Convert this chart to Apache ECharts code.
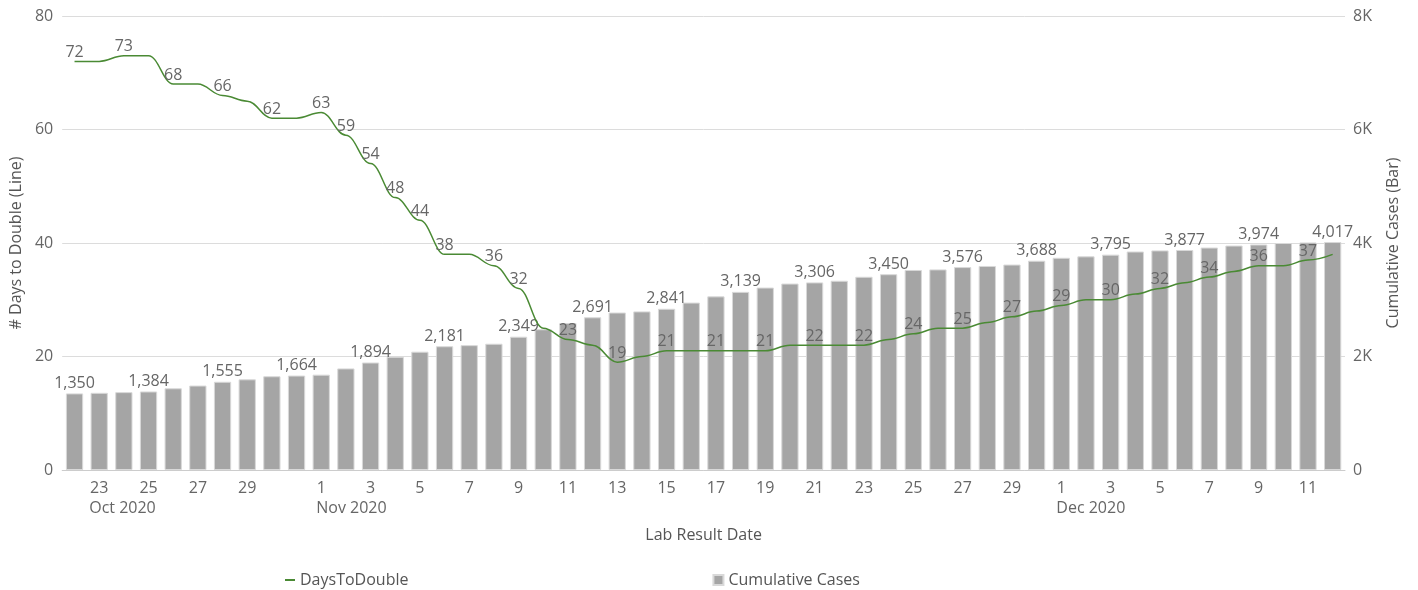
<!DOCTYPE html>
<html>
<head>
<meta charset="utf-8">
<script src="https://cdn.jsdelivr.net/npm/echarts@6/dist/echarts.min.js"></script>
<style>
  html, body { margin: 0; padding: 0; background: #fff; }
  #chart { width: 1418px; height: 590px; }
</style>
</head>
<body>
<div id="chart"></div>
<script>
const dates = [
  '2020-10-22','2020-10-23','2020-10-24','2020-10-25','2020-10-26','2020-10-27','2020-10-28','2020-10-29','2020-10-30','2020-10-31',
  '2020-11-01','2020-11-02','2020-11-03','2020-11-04','2020-11-05','2020-11-06','2020-11-07','2020-11-08','2020-11-09','2020-11-10',
  '2020-11-11','2020-11-12','2020-11-13','2020-11-14','2020-11-15','2020-11-16','2020-11-17','2020-11-18','2020-11-19','2020-11-20',
  '2020-11-21','2020-11-22','2020-11-23','2020-11-24','2020-11-25','2020-11-26','2020-11-27','2020-11-28','2020-11-29','2020-11-30',
  '2020-12-01','2020-12-02','2020-12-03','2020-12-04','2020-12-05','2020-12-06','2020-12-07','2020-12-08','2020-12-09','2020-12-10',
  '2020-12-11','2020-12-12'
];
const monthNames = ['Jan','Feb','Mar','Apr','May','Jun','Jul','Aug','Sep','Oct','Nov','Dec'];

const daysToDouble = [
  72, 72, 73, 73, 68, 68, 66, 65, 62, 62,
  63, 59, 54, 48, 44, 38, 38, 36, 32, 25,
  23, 22, 19, 20, 21, 21, 21, 21, 21, 22,
  22, 22, 22, 23, 24, 25, 25, 26, 27, 28,
  29, 30, 30, 31, 32, 33, 34, 35, 36, 36,
  37, 38
];
const cumulativeCases = [
  1350, 1360, 1372, 1384, 1440, 1488, 1555, 1598, 1652, 1664,
  1680, 1790, 1894, 1995, 2085, 2181, 2200, 2225, 2349, 2480,
  2590, 2691, 2775, 2795, 2841, 2950, 3060, 3139, 3215, 3285,
  3306, 3335, 3405, 3450, 3525, 3535, 3576, 3595, 3620, 3688,
  3740, 3765, 3795, 3850, 3870, 3877, 3920, 3955, 3974, 4000,
  4010, 4017
];

const textColor = '#666';
const font = 'Open Sans';
const fs = 16;

const dayOf = (d) => parseInt(d.slice(8), 10);
// tick every other day, skipping the 31st so the 1st of next month gets the slot
const showDay = (i) => dayOf(dates[i]) % 2 === 1 && dayOf(dates[i]) !== 31;
const showMonth = (i) => {
  if (!showDay(i)) return false;
  for (let j = i - 1; j >= 0 && dates[j].slice(0, 7) === dates[i].slice(0, 7); j--) {
    if (showDay(j)) return false;
  }
  return true;
};

// labels the original tool kept after its overlap pass
const lineLabelShown = (i) => (i % 2 === 0 && i !== 16) || [11, 13, 15, 17].includes(i);

const lineData = daysToDouble.map((v, i) => ({
  value: v,
  label: { show: lineLabelShown(i) }
}));
const barData = cumulativeCases.map((v, i) => ({
  value: v,
  label: { show: i % 3 === 0 }
}));

const chart = echarts.init(document.getElementById('chart'));
chart.setOption({
  animation: false,
  textStyle: { fontFamily: font },
  grid: { left: 62, right: 73, top: 16, bottom: 120 },
  legend: {
    left: 280,
    top: 567,
    itemGap: 304,
    itemWidth: 10,
    itemHeight: 10,
    textStyle: { color: '#555', fontSize: fs, fontFamily: font },
    data: [
      { name: 'DaysToDouble', icon: 'path://M0,4h10v2h-10z' },
      { name: 'Cumulative Cases', icon: 'rect' }
    ]
  },
  xAxis: [
    {
      type: 'category',
      data: dates,
      name: 'Lab Result Date',
      nameLocation: 'middle',
      nameGap: 57,
      nameTextStyle: { color: '#555', fontSize: fs },
      axisLine: { lineStyle: { color: '#ccc' } },
      axisTick: { alignWithLabel: true, interval: (i) => showDay(i), length: 5, lineStyle: { color: '#ccc' } },
      axisLabel: {
        interval: (i) => showDay(i),
        formatter: (v) => String(dayOf(v)),
        color: textColor,
        fontSize: fs,
        margin: 10
      }
    },
    {
      type: 'category',
      data: dates,
      position: 'bottom',
      offset: 20,
      axisLine: { show: false },
      axisTick: { show: false },
      axisLabel: {
        interval: (i) => showMonth(i),
        formatter: (v) => {
          const d = dayOf(v);
          const txt = monthNames[parseInt(v.slice(5, 7), 10) - 1] + ' ' + v.slice(0, 4);
          return d >= 10 ? '{w|' + txt + '}' : '{n|' + txt + '}';
        },
        align: 'left',
        color: textColor,
        fontSize: fs,
        margin: 10,
        rich: {
          w: { color: textColor, fontSize: fs, padding: [0, 0, 0, -10] },
          n: { color: textColor, fontSize: fs, padding: [0, 0, 0, -5] }
        }
      }
    }
  ],
  yAxis: [
    {
      type: 'value',
      min: 0,
      max: 80,
      interval: 20,
      name: '# Days to Double (Line)',
      nameLocation: 'middle',
      nameGap: 38,
      nameTextStyle: { color: '#555', fontSize: fs },
      axisLabel: { color: textColor, fontSize: fs, margin: 9 },
      splitLine: { lineStyle: { color: '#dcdcdc', width: 1 } }
    },
    {
      type: 'value',
      min: 0,
      max: 8000,
      interval: 2000,
      name: 'Cumulative Cases (Bar)',
      nameLocation: 'middle',
      nameGap: 40,
      nameTextStyle: { color: '#555', fontSize: fs },
      axisLabel: {
        color: textColor,
        fontSize: fs,
        margin: 8,
        formatter: (v) => (v === 0 ? '0' : v / 1000 + 'K')
      },
      splitLine: { show: false }
    }
  ],
  series: [
    {
      name: 'Cumulative Cases',
      type: 'bar',
      yAxisIndex: 1,
      data: barData,
      barCategoryGap: '30%',
      itemStyle: { color: '#a5a5a5', borderColor: '#d9d9d9', borderWidth: 1 },
      label: { position: 'top', color: textColor, fontSize: fs, distance: 2, formatter: (p) => p.value.toLocaleString('en-US') }
    },
    {
      name: 'DaysToDouble',
      type: 'line',
      yAxisIndex: 0,
      data: lineData,
      smooth: 0.4,
      smoothMonotone: 'x',
      symbol: 'circle',
      symbolSize: 0,
      showSymbol: true,
      lineStyle: { color: '#4a8a34', width: 1.5 },
      itemStyle: { color: '#4a8a34' },
      label: { position: 'top', color: textColor, fontSize: fs, distance: 1 }
    }
  ]
});
</script>
</body>
</html>
